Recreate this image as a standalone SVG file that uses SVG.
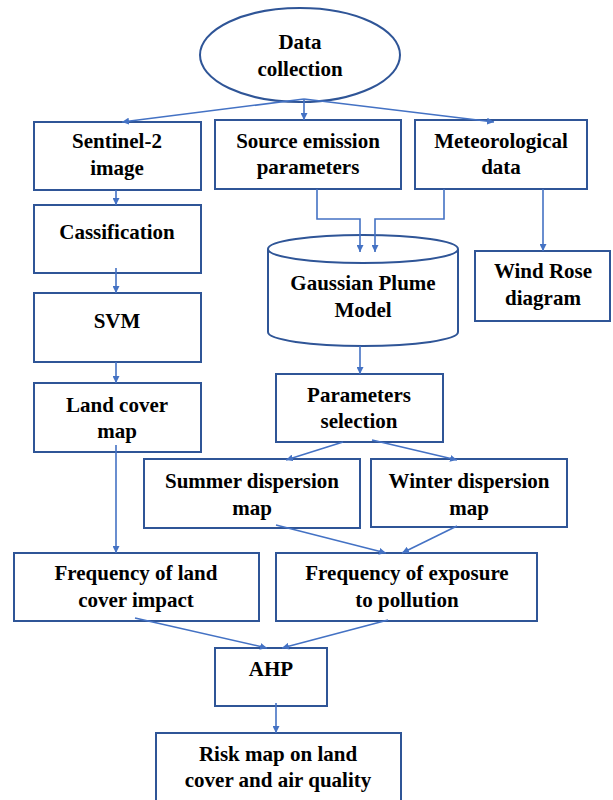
<svg xmlns="http://www.w3.org/2000/svg" width="613" height="800" viewBox="0 0 613 800">
<defs>
<marker id="ah" viewBox="0 0 10 10" refX="10" refY="5" markerWidth="7" markerHeight="7" markerUnits="userSpaceOnUse" orient="auto">
<path d="M0,0 L10,5 L0,10 z" fill="#4472C4"/>
</marker>
</defs>
<rect width="613" height="800" fill="#fff"/>
<g id="nodes" fill="#fff" stroke="#2F5597" stroke-width="2">
<ellipse id="data-collection-shape" cx="300" cy="55" rx="100" ry="47"/>
<rect id="sentinel-shape" x="34" y="122" width="167" height="68"/>
<rect id="source-shape" x="215" y="120" width="186" height="69"/>
<rect id="meteo-shape" x="415" y="120" width="172" height="69"/>
<rect id="classification-shape" x="34" y="205" width="167" height="68"/>
<rect id="svm-shape" x="34" y="293" width="167" height="69"/>
<rect id="landcover-shape" x="34" y="383" width="167" height="69"/>
<path id="gaussian-shape" d="M268,249 L268,332 A95,14 0 0 0 458,332 L458,249 A95,14 0 0 0 268,249 Z M268,249 A95,14 0 0 0 458,249"/>
<rect id="windrose-shape" x="475" y="251" width="135" height="70"/>
<rect id="parameters-shape" x="276" y="374" width="167" height="68"/>
<rect id="summer-shape" x="144" y="459" width="216" height="69"/>
<rect id="winter-shape" x="371" y="459" width="196" height="68"/>
<rect id="freq-land-shape" x="14" y="553" width="245" height="68"/>
<rect id="freq-exposure-shape" x="276" y="553" width="261" height="68"/>
<rect id="ahp-shape" x="215" y="648" width="112" height="58"/>
<rect id="risk-shape" x="156" y="733" width="245" height="75"/>
</g>
<g id="labels" font-family="Liberation Serif" font-weight="bold" font-size="21" text-anchor="middle" fill="#000">
<g id="data-collection"><text x="300" y="49">Data</text><text x="300" y="76">collection</text></g>
<g id="sentinel"><text x="117" y="148">Sentinel-2</text><text x="117" y="175">image</text></g>
<g id="source"><text x="308" y="148">Source emission</text><text x="308" y="174">parameters</text></g>
<g id="meteo"><text x="501" y="148">Meteorological</text><text x="501" y="174">data</text></g>
<g id="classification"><text x="117" y="239">Cassification</text></g>
<g id="svm"><text x="117" y="328">SVM</text></g>
<g id="landcover"><text x="117" y="412">Land cover</text><text x="117" y="438">map</text></g>
<g id="gaussian"><text x="363" y="290">Gaussian Plume</text><text x="363" y="317">Model</text></g>
<g id="windrose"><text x="543" y="278">Wind Rose</text><text x="543" y="305">diagram</text></g>
<g id="parameters"><text x="359" y="402">Parameters</text><text x="359" y="428">selection</text></g>
<g id="summer"><text x="252" y="488">Summer dispersion</text><text x="252" y="515">map</text></g>
<g id="winter"><text x="469" y="488">Winter dispersion</text><text x="469" y="515">map</text></g>
<g id="freq-land"><text x="136" y="580">Frequency of land</text><text x="136" y="607">cover impact</text></g>
<g id="freq-exposure"><text x="407" y="580">Frequency of exposure</text><text x="407" y="607">to pollution</text></g>
<g id="ahp"><text x="271" y="676">AHP</text></g>
<g id="risk"><text x="278" y="761">Risk map on land</text><text x="278" y="787">cover and air quality</text></g>
</g>
<g id="connectors" fill="none" stroke="#4472C4" stroke-width="1.6" marker-end="url(#ah)">
<path d="M304,99 L122,122"/>
<path d="M304,99 L304,120"/>
<path d="M304,99 L494,122"/>
<path d="M116,190 L116,205"/>
<path d="M116,268 L116,293"/>
<path d="M116,362 L116,383"/>
<path d="M317,189 L317,219 L360,219 L360,252"/>
<path d="M444,189 L444,219 L375,219 L375,252"/>
<path d="M543,189 L543,251"/>
<path d="M360,346 L360,374"/>
<path d="M343,442 L286,460"/>
<path d="M372,440 L457,460"/>
<path d="M116,445 L116,553"/>
<path d="M276,525 L386,553"/>
<path d="M457,526 L402,553"/>
<path d="M135,618 L267,648"/>
<path d="M388,620 L282,648"/>
<path d="M276,703 L276,733"/>
</g>
</svg>
